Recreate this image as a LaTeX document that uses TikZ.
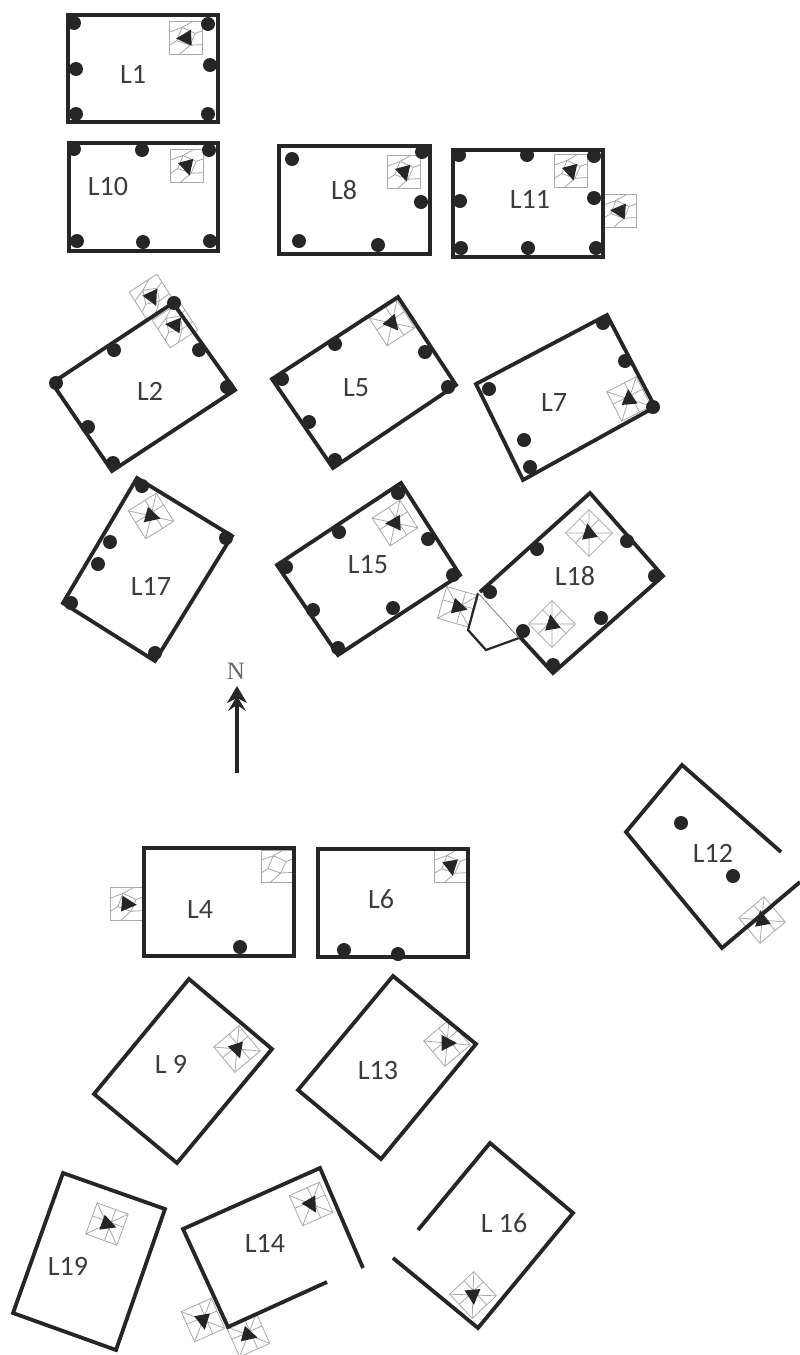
\documentclass[tikz,border=0pt]{standalone}
\usepackage{fontspec}
\setmainfont{Carlito}
\newfontfamily\nfont{Liberation Serif}
\definecolor{ink}{HTML}{262626}
\definecolor{web}{HTML}{A8A8A8}
\tikzset{
  wall/.style={draw=ink,line width=3.8pt,line join=miter},
  thinwall/.style={draw=ink,line width=2.2pt,line join=miter},
  roomlabel/.style={font=\fontsize{28}{28}\selectfont,text=ink!90,inner sep=0pt},
  iconline/.style={draw=web,line width=0.8pt},
  pin/.style={fill=ink,draw=none}
}
\newcommand{\webA}{%
  \draw[iconline] (-.5,.18)--(-.12,.32)--(.2,.5) (-.12,.32)--(.28,.14)--(.5,.22)
      (.28,.14)--(.12,-.22)--(.5,-.2) (.12,-.22)--(-.2,-.5) (.12,-.22)--(-.28,-.08)--(-.5,-.22)
      (-.28,-.08)--(-.12,.32);}
\newcommand{\webB}{%
  \draw[iconline] (-.5,.5)--(.5,-.5) (-.5,-.5)--(.5,.5) (-.5,.08)--(.5,.08) (.1,.5)--(.1,-.5);}
% #1 x, #2 y, #3 square rotation, #4 dart rotation (0 = pointing east), #5 web
\newcommand{\icn}[5]{%
  \begin{scope}[shift={(#1,#2)},rotate=#3,x=33pt,y=33pt]
    \draw[iconline] (-.5,-.5) rectangle (.5,.5);
    #5
  \end{scope}
  \begin{scope}[shift={(#1,#2)},rotate=#4,x=33pt,y=33pt]
    \fill[ink] (.3,0)--(-.16,.24)--(-.16,-.24)--cycle;
  \end{scope}}
\newcommand{\emptyicn}[3]{%
  \begin{scope}[shift={(#1,#2)},rotate=#3,x=32pt,y=32pt]
    \draw[iconline] (-.5,-.5) rectangle (.5,.5);
    \webA
  \end{scope}}
\newcommand{\pins}[1]{\foreach \p in {#1}{\fill[pin] \p circle (7pt);}}
\begin{document}
\begin{tikzpicture}[x=1pt,y=-1pt]
\useasboundingbox (0,0) rectangle (800,1355);
\fill[white] (0,0) rectangle (800,1355);
% icons first (walls and pins lie over them)
\icn{186}{38}{0}{183}{\webA}
\icn{187}{166}{0}{-75}{\webA}
\icn{404}{172}{0}{-75}{\webA}
\icn{571}{171}{0}{-75}{\webA}
\icn{620}{211}{0}{175}{\webA}
\icn{152}{297}{33}{-65}{\webA}
\icn{175}{325}{33}{175}{\webA}
\icn{392}{323}{33}{-50}{\webB}
\icn{629}{399}{27}{95}{\webB}
\icn{151}{516}{32}{-15}{\webB}
\icn{395}{523}{33}{183}{\webB}
\icn{589}{533}{45}{100}{\webB}
\icn{552}{624}{45}{100}{\webB}
\icn{458}{607}{-16}{-15}{\webB}
\emptyicn{277}{866}{0}
\icn{127}{904}{0}{-5}{\webA}
\icn{451}{866}{0}{-80}{\webA}
\icn{762}{920}{40}{100}{\webB}
\icn{237}{1049}{40}{-72}{\webB}
\icn{447}{1043}{40}{0}{\webB}
\icn{107}{1224}{-20}{-20}{\webB}
\icn{311}{1204}{24}{-60}{\webB}
\icn{203}{1320}{24}{-80}{\webB}
\icn{248}{1335}{24}{-15}{\webB}
\icn{473}{1295}{43}{-85}{\webB}
% walls
\draw[wall] (68,15)--(218,15)--(218,122)--(68,122)--cycle;
\draw[wall] (69,143)--(218,143)--(218,251)--(69,251)--cycle;
\draw[wall] (279,146)--(430,146)--(430,254)--(279,254)--cycle;
\draw[wall] (453,150)--(603,150)--(603,257)--(453,257)--cycle;
\draw[wall] (173,303)--(235,390)--(112,471)--(52,383)--cycle;
\draw[wall] (398,297)--(456,385)--(333,468)--(272,379)--cycle;
\draw[wall] (607,315)--(655,407)--(523,480)--(476,384)--cycle;
\draw[wall] (137,478)--(232,536)--(155,661)--(63,603)--cycle;
\draw[wall] (401,483)--(460,575)--(338,655)--(277,565)--cycle;
\draw[wall] (480,592)--(590,493)--(663,576)--(553,673)--(519,636);
\draw[thinwall] (478,593)--(468,630)--(486,650)--(519,638);
\draw[iconline,draw=gray] (478,593)--(519,638);
\draw[wall] (781,852)--(682,765)--(626,832)--(722,948)--(800,882);
\draw[wall] (144,848)--(294,848)--(294,956)--(144,956)--cycle;
\draw[wall] (318,849)--(468,849)--(468,957)--(318,957)--cycle;
\draw[wall] (189,979)--(272,1049)--(177,1163)--(94,1094)--cycle;
\draw[wall] (393,976)--(476,1044)--(381,1159)--(298,1090)--cycle;
\draw[wall] (63,1173)--(165,1209)--(116,1350)--(13,1313)--cycle;
\draw[wall] (327,1282)--(228,1327)--(183,1229)--(320,1168)--(363,1268);
\draw[wall] (418,1230)--(490,1143)--(573,1213)--(478,1328)--(393,1258);
% pins
\pins{(74,23),(208,24),(76,69),(210,65),(76,114),(208,114)}
\pins{(74,149),(142,150),(209,150),(77,241),(143,242),(210,241)}
\pins{(292,159),(422,152),(421,202),(299,241),(378,245)}
\pins{(459,155),(527,155),(594,156),(460,201),(594,198),(461,248),(528,248),(596,248)}
\pins{(174,303),(114,350),(199,350),(227,387),(56,383),(88,427),(113,463)}
\pins{(335,344),(425,352),(448,387),(282,379),(309,422),(335,460)}
\pins{(603,323),(625,361),(653,407),(489,389),(524,440),(530,467)}
\pins{(142,486),(226,538),(110,542),(98,564),(71,603),(155,653)}
\pins{(398,493),(339,532),(428,539),(453,575),(286,567),(313,610),(393,608),(338,648)}
\pins{(490,592),(537,549),(627,541),(655,576),(523,631),(601,618),(553,665)}
\pins{(681,823),(733,876)}
\pins{(240,947)}
\pins{(344,950),(398,954)}
% labels
\node[roomlabel] (l1) at (133,74) {L1};
\node[roomlabel] (l10) at (108,187) {L10};
\node[roomlabel] (l8) at (344,190) {L8};
\node[roomlabel] (l11) at (530,199) {L11};
\node[roomlabel] (l2) at (150,391) {L2};
\node[roomlabel] (l5) at (356,388) {L5};
\node[roomlabel] (l7) at (554,403) {L7};
\node[roomlabel] (l17) at (151,586) {L17};
\node[roomlabel] (l15) at (368,565) {L15};
\node[roomlabel] (l18) at (575,576) {L18};
\node[roomlabel] (l12) at (713,853) {L12};
\node[roomlabel] (l4) at (200,909) {L4};
\node[roomlabel] (l6) at (381,899) {L6};
\node[roomlabel] (l9) at (171,1064) {L 9};
\node[roomlabel] (l13) at (378,1070) {L13};
\node[roomlabel] (l19) at (68,1266) {L19};
\node[roomlabel] (l14) at (265,1243) {L14};
\node[roomlabel] (l16) at (504,1223) {L 16};
% north arrow
\node[font=\nfont\fontsize{25}{25}\selectfont,text=ink!70,inner sep=0pt] (north) at (236,671) {N};
\coordinate (ntail) at (237,773);
\coordinate (nhead) at (237,700);
\draw[draw=ink,line width=3.6pt] (ntail)--(nhead);
\fill[ink] (237,686)--(247,703)--(237,698)--(227,703)--cycle;
\fill[ink] (237,696)--(246,711)--(237,705)--(228,711)--cycle;
\end{tikzpicture}
\end{document}
